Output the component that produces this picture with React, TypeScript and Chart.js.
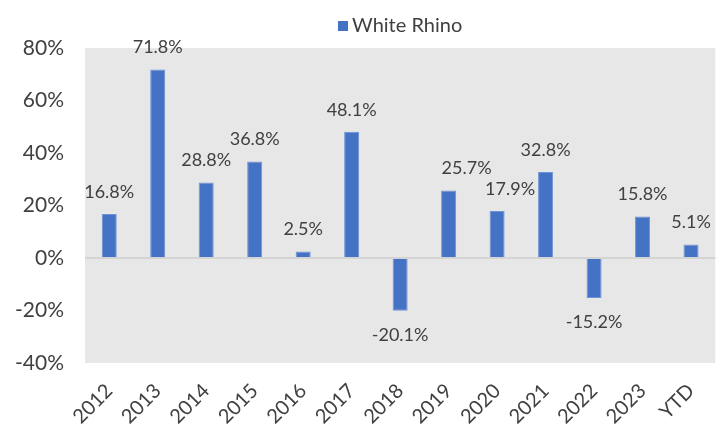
import React, { useEffect, useRef } from "react";
import { Chart, registerables } from "chart.js";

Chart.register(...registerables);

const categories = ["2012", "2013", "2014", "2015", "2016", "2017", "2018", "2019", "2020", "2021", "2022", "2023", "YTD"];
const whiteRhino = [16.8, 71.8, 28.8, 36.8, 2.5, 48.1, -20.1, 25.7, 17.9, 32.8, -15.2, 15.8, 5.1];
const yTicks = [-40, -20, 0, 20, 40, 60, 80];
const seriesName = "White Rhino";

// small horizontal nudges for individual data labels (style only)
const labelNudgeX: Record<string, number> = { "2019": 18, "2020": 13 };

const FONT = "Lato, 'Noto Sans', sans-serif";
const TEXT = "#404040";
const BAR = "#4472C4";

const plotBg = {
  id: "plotBg",
  beforeDraw(chart: any) {
    const { ctx, chartArea } = chart;
    ctx.save();
    ctx.fillStyle = "#e7e7e7";
    ctx.fillRect(chartArea.left, chartArea.top, chartArea.right - chartArea.left, chartArea.bottom - chartArea.top);
    ctx.restore();
  },
};

const barLabels = {
  id: "barLabels",
  afterDatasetsDraw(chart: any) {
    const { ctx } = chart;
    const meta = chart.getDatasetMeta(0);
    const data = chart.data.datasets[0].data as number[];
    ctx.save();
    ctx.font = `18px ${FONT}`;
    ctx.fillStyle = TEXT;
    ctx.textAlign = "center";
    ctx.textBaseline = "middle";
    meta.data.forEach((el: any, i: number) => {
      const v = data[i];
      const cat = chart.data.labels[i];
      const dx = labelNudgeX[cat] || 0;
      const y = v >= 0 ? el.y - 22 : el.y + 24;
      ctx.fillText(v.toFixed(1) + "%", el.x + dx, y);
    });
    ctx.restore();
  },
};

const topLegend = {
  id: "topLegend",
  afterDraw(chart: any) {
    const { ctx, chartArea } = chart;
    const ds = chart.data.datasets[0];
    ctx.save();
    ctx.font = `20px ${FONT}`;
    const tw = ctx.measureText(ds.label).width;
    const box = 10;
    const gap = 4;
    const total = box + gap + tw;
    const cx = (chartArea.left + chartArea.right) / 2;
    const x0 = cx - total / 2;
    const cy = 26;
    ctx.fillStyle = ds.backgroundColor;
    ctx.fillRect(x0, cy - box / 2, box, box);
    ctx.fillStyle = TEXT;
    ctx.textAlign = "left";
    ctx.textBaseline = "middle";
    ctx.fillText(ds.label, x0 + box + gap, cy);
    ctx.restore();
  },
};

export default function App() {
  const ref = useRef<HTMLCanvasElement | null>(null);
  useEffect(() => {
    if (!ref.current) return;
    const chart = new Chart(ref.current, {
      type: "bar",
      data: {
        labels: categories,
        datasets: [
          {
            label: seriesName,
            data: whiteRhino,
            backgroundColor: BAR,
            borderColor: "#6f93d6",
            borderWidth: 1,
            categoryPercentage: 1,
            barPercentage: 0.31,
          },
        ],
      },
      options: {
        animation: false,
        responsive: true,
        maintainAspectRatio: false,
        layout: { padding: { top: 48, right: 0, bottom: 0, left: 0 } },
        plugins: {
          legend: { display: false },
          tooltip: { enabled: false },
        },
        scales: {
          x: {
            grid: { display: false },
            border: { display: false },
            ticks: {
              font: { family: FONT, size: 20 },
              color: TEXT,
              maxRotation: 45,
              minRotation: 45,
              padding: 8,
            },
            afterFit(scale: any) {
              scale.height = 62;
            },
          },
          y: {
            min: -40,
            max: 80,
            afterBuildTicks(scale: any) {
              scale.ticks = yTicks.map((v) => ({ value: v }));
            },
            grid: {
              drawTicks: false,
              color: (ctx: any) => (ctx.tick && ctx.tick.value === 0 ? "#d4d4d4" : "rgba(0,0,0,0)"),
              lineWidth: 2,
            },
            border: { display: false },
            ticks: {
              font: { family: FONT, size: 21 },
              color: TEXT,
              padding: 21,
              callback: (v: any) => v + "%",
            },
            afterFit(scale: any) {
              scale.width = 85;
            },
          },
        },
      },
      plugins: [plotBg, barLabels, topLegend],
    });
    return () => chart.destroy();
  }, []);
  return (
    <div style={{ position: "fixed", left: 0, top: 0, width: 716, height: 425, background: "#fff" }}>
      <canvas ref={ref} />
    </div>
  );
}
